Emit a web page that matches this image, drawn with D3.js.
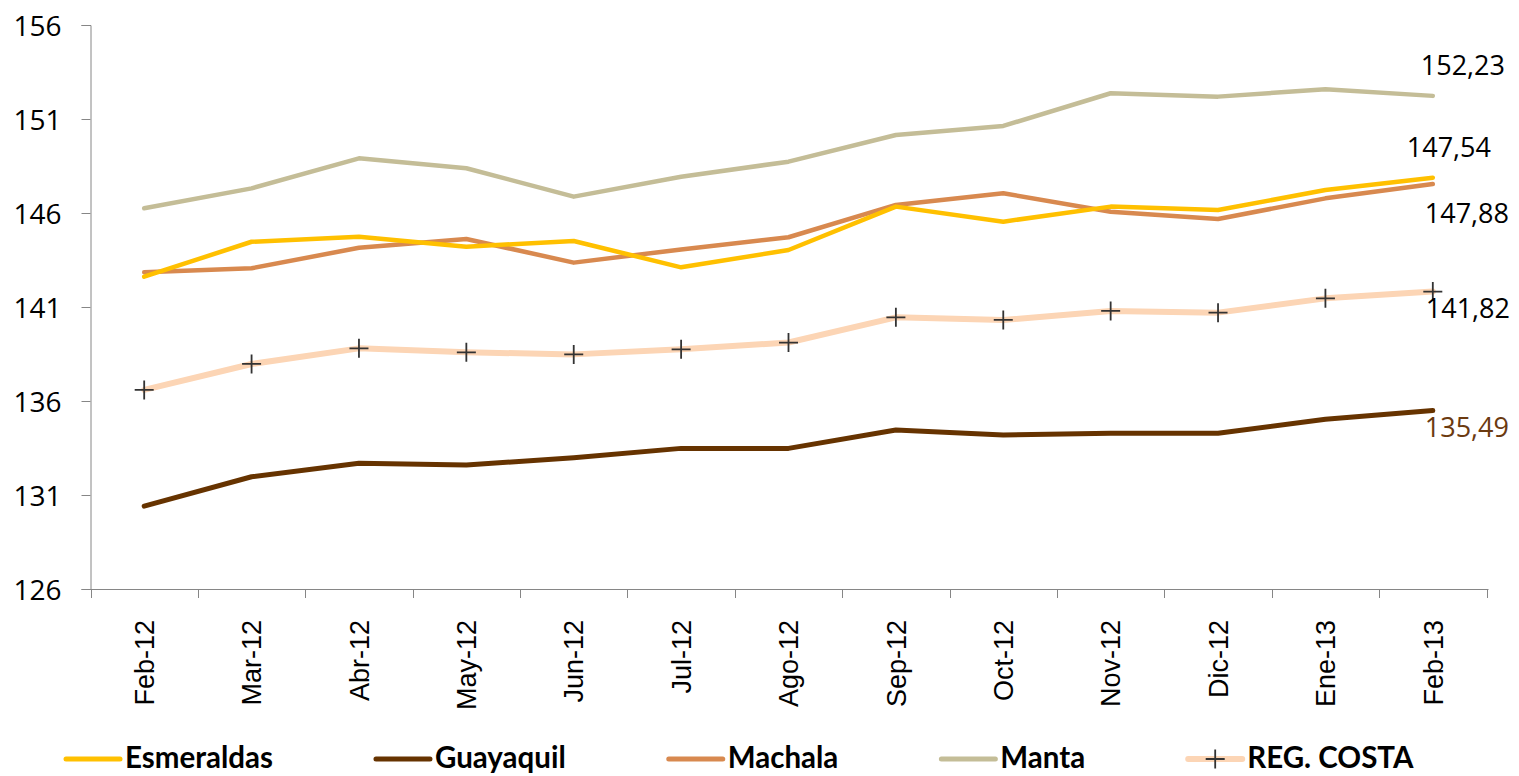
<!DOCTYPE html>
<html>
<head>
<meta charset="utf-8">
<script src="https://cdn.jsdelivr.net/npm/d3@7"></script>
<style>
  html, body { margin: 0; padding: 0; background: #fff; }
  svg { display: block; }
</style>
</head>
<body>
<svg id="chart" width="1519" height="776"></svg>
<script>
// ---- Data ----
const categories = ["Feb-12","Mar-12","Abr-12","May-12","Jun-12","Jul-12","Ago-12","Sep-12","Oct-12","Nov-12","Dic-12","Ene-13","Feb-13"];
const esmeraldas = [142.61,144.47,144.74,144.21,144.51,143.11,144.03,146.34,145.54,146.34,146.16,147.22,147.88];
const guayaquil  = [130.41,131.97,132.69,132.60,132.98,133.48,133.48,134.46,134.19,134.28,134.28,135.03,135.49];
const machala    = [142.85,143.06,144.15,144.62,143.36,144.06,144.71,146.43,147.05,146.07,145.68,146.78,147.54];
const manta      = [146.25,147.31,148.91,148.38,146.87,147.93,148.73,150.15,150.63,152.37,152.19,152.58,152.23];
const regCosta   = [136.59,137.97,138.80,138.59,138.48,138.75,139.11,140.45,140.31,140.79,140.70,141.46,141.82];
const seriesNames = ["Esmeraldas","Guayaquil","Machala","Manta","REG. COSTA"];
const yTicks = [126,131,136,141,146,151,156];
const endLabels = ["147,88","135,49","147,54","152,23","141,82"];

// ---- Styles ----
const colors = ["#FFC000","#663300","#D8894F","#C4BD97","#FCD5B5"];
const widths = [4.5,5,4.5,4.5,6];
const labelColors = ["#000","#6B3A10","#000","#000","#000"];
const labelOffsets = [[-8,45],[-8,26],[-26,-27],[-12,-21],[-7,26]];

const allSeries = [esmeraldas, guayaquil, machala, manta, regCosta];

const svg = d3.select("#chart");
const x = d3.scaleBand().domain(categories).range([90.5, 1486.5]).padding(0);
const y = d3.scaleLinear().domain([126,156]).range([589,25]);
const cx = c => x(c) + x.bandwidth()/2;

const axisColor = "#868686";

// y axis
const yAxis = d3.axisLeft(y).tickValues(yTicks).tickSize(9).tickPadding(20).tickFormat(d3.format("d"));
const gy = svg.append("g").attr("transform","translate(90.5,0)").call(yAxis);
gy.select(".domain").attr("stroke",axisColor).attr("stroke-width",1);
gy.selectAll(".tick line").attr("stroke",axisColor);
gy.selectAll(".tick text").attr("font-family","'Open Sans', sans-serif").attr("font-size",28).attr("fill","#000").attr("dy","0.36em");

// x axis (line + boundary ticks)
const gx = svg.append("g");
gx.append("line").attr("x1",x.range()[0]).attr("x2",x.range()[1]+2).attr("y1",y(126)+0.5).attr("y2",y(126)+0.5).attr("stroke",axisColor);
const bounds = categories.map(c => x(c)).concat([x.range()[1]]);
gx.selectAll("line.tk").data(bounds).enter().append("line")
  .attr("class","tk").attr("x1",d=>Math.round(d)+0.5).attr("x2",d=>Math.round(d)+0.5)
  .attr("y1",y(126)).attr("y2",y(126)+9).attr("stroke",axisColor);
gx.selectAll("text").data(categories).enter().append("text")
  .attr("transform",d=>`translate(${cx(d)},620) rotate(-90)`)
  .attr("text-anchor","end").attr("dy","0.36em")
  .attr("font-family","'Liberation Sans', Arial, sans-serif").attr("font-size",27).attr("fill","#000")
  .text(d=>d);

// lines
const line = d3.line().x((d,i)=>cx(categories[i])).y(d=>y(d));
const drawOrder = [4,3,2,0,1];
drawOrder.forEach(si => {
  svg.append("path").datum(allSeries[si]).attr("d",line)
    .attr("fill","none").attr("stroke",colors[si]).attr("stroke-width",widths[si])
    .attr("stroke-linecap","round").attr("stroke-linejoin","round");
});

// markers for REG. COSTA
function drawPlus(g, px, py) {
  const h = 9.5;
  g.append("path").attr("d",`M${px-h},${py}H${px+h}M${px},${py-h}V${py+h}`)
    .attr("stroke","#333").attr("stroke-width",1.8).attr("fill","none");
}
const mg = svg.append("g");
regCosta.forEach((v,i) => drawPlus(mg, cx(categories[i]), y(v)));

// end labels
const last = categories.length - 1;
allSeries.forEach((s,si) => {
  svg.append("text")
    .attr("x", cx(categories[last]) + labelOffsets[si][0])
    .attr("y", y(s[last]) + labelOffsets[si][1])
    .attr("font-family","'Open Sans', sans-serif").attr("font-size",27)
    .attr("fill",labelColors[si]).text(endLabels[si]);
});

// legend
const lg = svg.append("g");
let lx = 66;
const ly = 759;
seriesNames.forEach((name,si) => {
  lg.append("line").attr("x1",lx).attr("x2",lx+54).attr("y1",ly).attr("y2",ly)
    .attr("stroke",colors[si]).attr("stroke-width",si===4?6:5).attr("stroke-linecap","round");
  if (si===4) drawPlus(lg, lx+27, ly);
  const t = lg.append("text").attr("x",lx+59).attr("y",ly+9)
    .attr("font-family","Lato, sans-serif").attr("font-weight","bold").attr("font-size",29.5)
    .attr("fill","#000").text(name);
  lx = lx + 59 + t.node().getComputedTextLength() + 103;
});
</script>
</body>
</html>
